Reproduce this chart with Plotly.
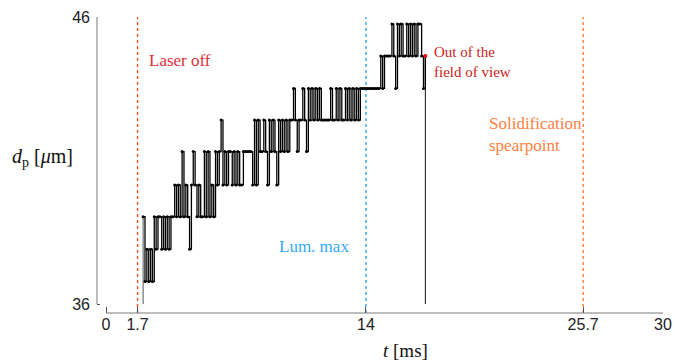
import plotly.graph_objects as go

# ---- data ----
# discrete diameter levels (µm); level 0 is the axis floor
LEVELS = [36.0, 36.78, 37.91, 39.04, 40.15, 41.31, 42.41, 43.51, 44.64, 45.76]

# frame times (ms)
T = [2.0, 2.1, 2.2, 2.3, 2.4, 2.5, 2.6, 2.7, 2.8, 2.9,
     3.0, 3.1, 3.2, 3.3, 3.4, 3.5, 3.6, 3.7, 3.8, 3.9,
     4.0, 4.1, 4.2, 4.3, 4.4, 4.5, 4.6, 4.7, 4.8, 4.9,
     5.0, 5.1, 5.2, 5.3, 5.4, 5.5, 5.6, 5.7, 5.8, 5.9,
     6.0, 6.1, 6.2, 6.3, 6.4, 6.5, 6.6, 6.7, 6.8, 6.9,
     7.0, 7.1, 7.2, 7.3, 7.4, 7.5, 7.6, 7.7, 7.8, 7.9,
     8.0, 8.1, 8.2, 8.3, 8.4, 8.5, 8.6, 8.7, 8.8, 8.9,
     9.0, 9.1, 9.2, 9.3, 9.4, 9.5, 9.6, 9.7, 9.8, 9.9,
     10.0, 10.1, 10.2, 10.3, 10.4, 10.5, 10.6, 10.7, 10.8, 10.9,
     11.0, 11.1, 11.2, 11.3, 11.4, 11.5, 11.6, 11.7, 11.8, 11.9,
     12.0, 12.1, 12.2, 12.3, 12.4, 12.5, 12.6, 12.7, 12.8, 12.9,
     13.0, 13.1, 13.2, 13.3, 13.4, 13.5, 13.6, 13.7, 13.8, 13.9,
     14.0, 14.1, 14.2, 14.3, 14.4, 14.5, 14.6, 14.7, 14.8, 14.9,
     15.0, 15.1, 15.2, 15.3, 15.4, 15.5, 15.6, 15.7, 15.8, 15.9,
     16.0, 16.1, 16.2, 16.3, 16.4, 16.5, 16.6, 16.7, 16.8, 16.9,
     17.0, 17.1, 17.2]

# level index for each frame
LEVEL_IDX = [3, 1, 2, 1, 2, 1, 3, 2, 3, 3,
             2, 3, 2, 3, 2, 3, 3, 4, 3, 4,
             3, 5, 3, 4, 3, 2, 4, 5, 4, 3,
             4, 3, 3, 5, 3, 5, 3, 4, 3, 5,
             4, 5, 6, 4, 5, 4, 5, 5, 4, 5,
             4, 5, 4, 4, 5, 5, 5, 5, 5, 4,
             6, 4, 6, 5, 5, 6, 5, 4, 6, 5,
             6, 5, 4, 6, 5, 6, 5, 6, 5, 6,
             6, 7, 6, 5, 6, 6, 7, 6, 5, 7,
             6, 7, 6, 7, 6, 7, 6, 6, 6, 6,
             6, 7, 6, 6, 7, 6, 7, 6, 6, 7,
             6, 7, 6, 7, 6, 7, 6, 7, 7, 7,
             7, 7, 7, 7, 7, 7, 7, 7, 8, 7,
             8, 8, 8, 8, 9, 8, 7, 9, 8, 9,
             8, 8, 9, 8, 9, 8, 9, 8, 9, 9,
             8, 7, 8]

DP = [LEVELS[i] for i in LEVEL_IDX]

EVENT_T = [1.7, 14.0, 25.7]
EVENT_LABELS = ["Laser off", "Lum. max", "Solidification<br>spearpoint"]
EVENT_LINE_COLORS = ["#f05020", "#2aa6f5", "#ff7a3a"]
EVENT_TEXT_COLORS = ["#e0303a", "#33aaf5", "#ff8040"]

X_TICKS = [0, 1.7, 14, 25.7, 30]
X_TICK_TEXT = ["0", "1.7", "14", "25.7", "30"]
Y_TICKS = [36, 46]

Y_MIN, Y_MAX = 36, 46
X_MIN, X_MAX = 0, 30

fig = go.Figure()

# thin connectors to the axis floor at start and end of the record
fig.add_trace(go.Scatter(x=[T[0], T[0]], y=[Y_MIN, DP[0]], mode="lines",
                         line=dict(color="#555555", width=1), showlegend=False))
fig.add_trace(go.Scatter(x=[T[-1], T[-1]], y=[DP[-1], Y_MIN], mode="lines",
                         line=dict(color="#111111", width=1), showlegend=False))

fig.add_trace(go.Scatter(x=T, y=DP, mode="lines+markers",
                         line=dict(color="black", width=1.3, shape="hv"),
                         marker=dict(color="black", size=3),
                         showlegend=False))

# out-of-view marker
fig.add_trace(go.Scatter(x=[T[-1]], y=[DP[-1]], mode="markers",
                         marker=dict(color="#dd1111", size=4), showlegend=False))

shapes = []
for t, c in zip(EVENT_T, EVENT_LINE_COLORS):
    shapes.append(dict(type="line", xref="x", yref="paper", x0=t, x1=t, y0=0, y1=1,
                       line=dict(color=c, width=1.4, dash="dot"), layer="below"))
# offset axis lines
shapes.append(dict(type="line", xref="paper", yref="y", x0=0, x1=0, y0=Y_MIN, y1=Y_MAX,
                   line=dict(color="#7a7a7a", width=1)))
shapes.append(dict(type="line", xref="x", yref="paper", x0=X_MIN, x1=X_MAX, y0=0, y1=0,
                   line=dict(color="#7a7a7a", width=1)))

serif = "Liberation Serif"
annotations = [
    dict(x=2.22, y=44.5, xref="x", yref="y", text=EVENT_LABELS[0], showarrow=False,
         xanchor="left", yanchor="middle", align="left",
         font=dict(family=serif, size=17, color=EVENT_TEXT_COLORS[0])),
    dict(x=9.2, y=38.0, xref="x", yref="y", text=EVENT_LABELS[1], showarrow=False,
         xanchor="left", yanchor="middle", align="left",
         font=dict(family=serif, size=17, color=EVENT_TEXT_COLORS[1])),
    dict(x=20.5, y=41.92, xref="x", yref="y", text=EVENT_LABELS[2], showarrow=False,
         xanchor="left", yanchor="middle", align="left",
         font=dict(family=serif, size=17, color=EVENT_TEXT_COLORS[2])),
    dict(x=17.55, y=44.43, xref="x", yref="y", text="Out of the<br>field of view",
         showarrow=False, xanchor="left", yanchor="middle", align="left",
         font=dict(family=serif, size=15, color="#cc2222")),
    dict(x=(42 - 97) / 566, y=41.12, xref="paper", yref="y",
         text="<i>d</i><sub>p</sub> [<i>μ</i>m]", showarrow=False,
         xanchor="center", yanchor="middle",
         font=dict(family=serif, size=20, color="#111111")),
    dict(x=16.15, y=(313 - 350) / 296, xref="x", yref="paper",
         text="<i>t</i> [ms]", showarrow=False, xanchor="center", yanchor="middle",
         font=dict(family=serif, size=19, color="#111111")),
]

fig.update_layout(
    width=675, height=361,
    margin=dict(l=97, r=12, t=17, b=48, autoexpand=False),
    plot_bgcolor="white", paper_bgcolor="white",
    shapes=shapes, annotations=annotations,
    xaxis=dict(range=[-9 / 18.57, X_MAX], tickvals=X_TICKS, ticktext=X_TICK_TEXT,
               ticks="inside", ticklen=6, tickcolor="#555555", showgrid=False,
               zeroline=False, showline=False, automargin=False,
               tickfont=dict(family="Liberation Sans", size=16, color="#222222")),
    yaxis=dict(range=[Y_MIN - 9 / 28.7, Y_MAX], tickvals=Y_TICKS,
               ticks="inside", ticklen=3, tickcolor="#555555", showgrid=False,
               zeroline=False, showline=False, automargin=False,
               ticklabelstandoff=6,
               tickfont=dict(family="Liberation Sans", size=16, color="#222222")),
)

fig.write_html("out.html")
